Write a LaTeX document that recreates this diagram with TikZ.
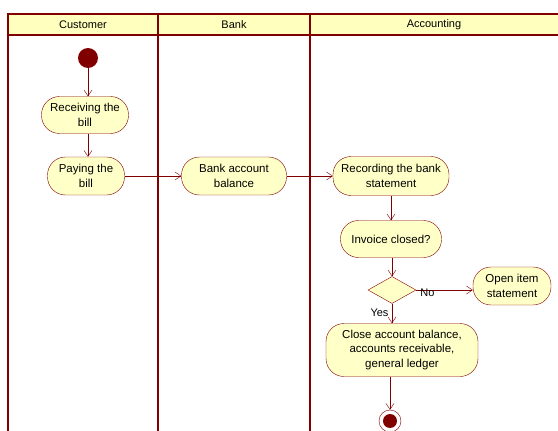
\documentclass[tikz,border=0pt]{standalone}
\usepackage{fontspec}
\setmainfont{Liberation Sans}
\definecolor{rojo}{RGB}{128,0,0}
\definecolor{crema}{RGB}{255,255,200}
\definecolor{cabecera}{RGB}{255,255,190}
\usetikzlibrary{arrows.meta,shapes.geometric,positioning}

\begin{document}
\begin{tikzpicture}[x=1pt,y=-1pt,
    actividad/.style={draw=rojo,fill=crema,rounded corners=18pt,
      align=center,font=\fontsize{11.5}{14.5}\selectfont,inner sep=2pt},
    flujo/.style={draw=rojo,-{Straight Barb[length=6pt,width=8pt]}},
    carril/.style={draw=rojo,line width=1.6pt},
    etiqueta/.style={font=\fontsize{11}{13}\selectfont}]
      \useasboundingbox (0,0) rectangle (558,431);

      % carriles
      \fill[cabecera] (8,14) rectangle (560,35);
      \draw[carril] (560,14) -- (8,14) -- (8,431);
      \draw[carril] (8,35) -- (560,35);
      \draw[carril] (158,14) -- (158,431);
      \draw[carril] (310,14) -- (310,431);
      \node[etiqueta] (lcliente) at (83,25) {Customer};
      \node[etiqueta] (lbanco) at (234,25) {Bank};
      \node[etiqueta] (lconta) at (434,25) {Accounting};

      % nodos
      \node[circle,fill=rojo,minimum size=20pt,inner sep=0pt] (inicio) at (88,58) {};
      \node[actividad,minimum width=87pt,minimum height=37pt] (recibir) at (85,115)
        {Receiving the\\bill};
      \node[actividad,minimum width=77pt,minimum height=38pt] (pagar) at (86,176)
        {Paying the\\bill};
      \node[actividad,minimum width=105pt,minimum height=38pt] (saldo) at (234,176)
        {Bank account\\balance};
      \node[actividad,minimum width=116pt,minimum height=39pt] (registro) at (391,176)
        {Recording the bank\\statement};
      \node[actividad,minimum width=101pt,minimum height=37pt] (factura) at (391,239)
        {Invoice closed?};
      \node[diamond,draw=rojo,fill=crema,minimum width=48pt,minimum height=27pt,
            inner sep=0pt] (decision) at (392,290) {};
      \node[actividad,minimum width=78pt,minimum height=38pt] (abierto) at (512,286)
        {Open item\\statement};
      \node[actividad,minimum width=152pt,minimum height=53pt] (cierre) at (402,350)
        {Close account balance,\\accounts receivable,\\general ledger};
      \node[circle,draw=rojo,fill=white,minimum size=22pt,inner sep=0pt] (fin) at (390,421) {};
      \node[circle,fill=rojo,minimum size=14pt,inner sep=0pt] at (fin) {};

      % flujos
      \draw[flujo] (inicio) -- (recibir.north -| inicio);
      \draw[flujo] (recibir.south -| inicio) -- (pagar.north -| inicio);
      \draw[flujo] (pagar) -- (saldo);
      \draw[flujo] (saldo) -- (registro);
      \draw[flujo] (registro) -- (factura);
      \draw[flujo] (factura.south -| decision) -- (decision);
      \draw[flujo] (decision.east) -- (decision.east -| abierto.west)
        node[pos=0.2,etiqueta,yshift=-3pt] {No};
      \draw[flujo] (decision) -- (cierre.north -| decision)
        node[pos=0.45,left,etiqueta] {Yes};
      \draw[flujo] (cierre.south -| fin) -- (fin);
    \end{tikzpicture}
\end{document}
